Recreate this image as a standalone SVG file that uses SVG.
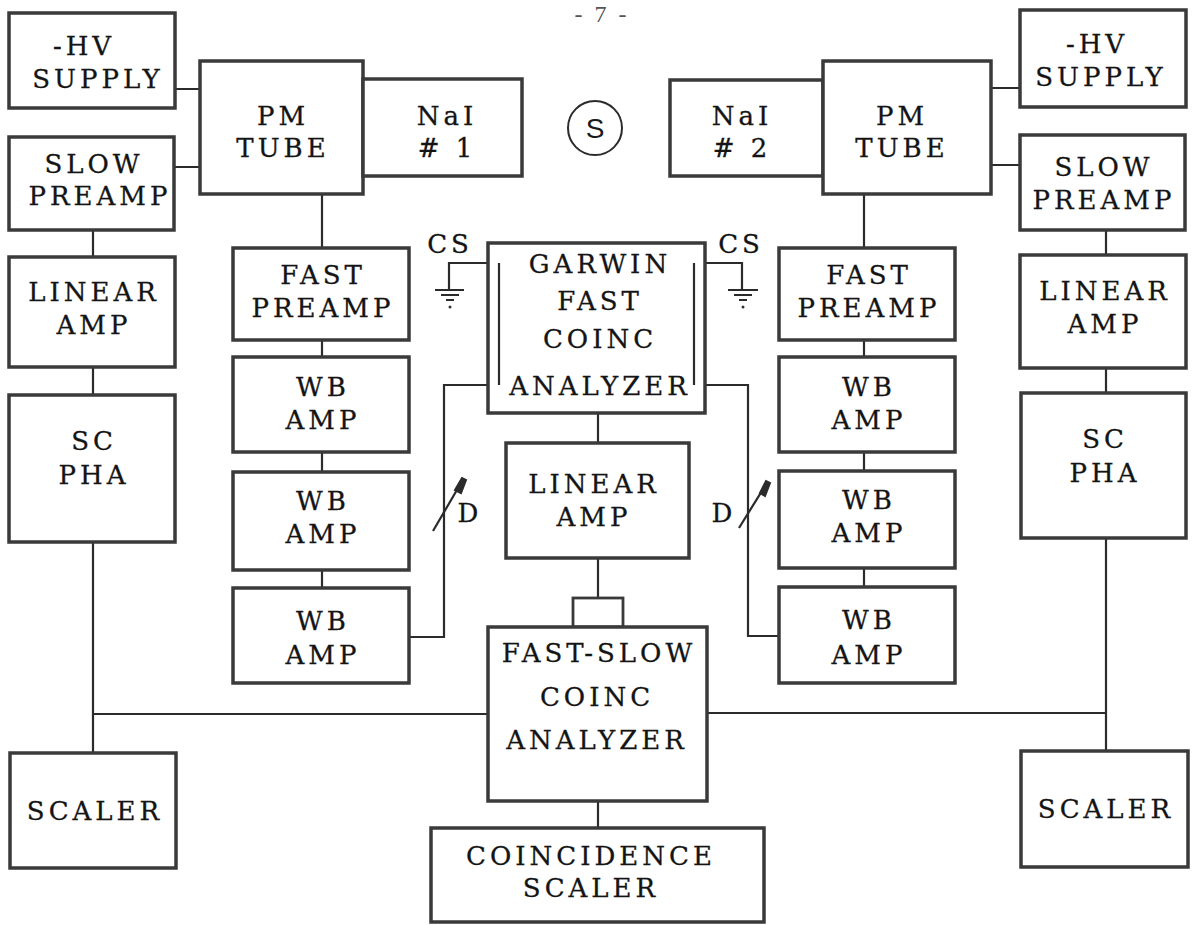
<svg xmlns="http://www.w3.org/2000/svg" width="1193" height="925" viewBox="0 0 1193 925">
<style>
.b{fill:#fff;stroke:#3a3a3a;stroke-width:3.5}
.c{fill:none;stroke:#2b2b2b;stroke-width:2.2}
.t{font-family:"DejaVu Serif","Liberation Serif",serif;font-size:26px;letter-spacing:4px;fill:#141414;stroke:#141414;stroke-width:0.3;text-anchor:middle}
</style>
<rect width="1193" height="925" fill="#fff"/>
<text x="602" y="22" style="font-family:'Liberation Serif',serif;font-size:24px;letter-spacing:3px;fill:#555;text-anchor:middle">- 7 -</text>
<g id="connectors">
<path class="c" d="M175 89H200M174 167H200M322 194V248M990 88H1020M990 165H1020M864 194V248"/>
<path class="c" d="M322 340V357M322 452V472M322 570V588M864 340V357M864 452V471M864 568V587"/>
<path class="c" d="M93 230V257M93 367V395M93 542V753M93 714H488M1106 230V255M1106 368V393M1106 538V751M707 713H1106"/>
<path class="c" d="M598 413V443M598 558V598M598 801V828"/>
<path class="c" d="M409 637H444V385H499V263H449V290M779 636H748V385H694V263H742V290"/>
<path class="c" d="M435 290H464M441 295H459M446 300H454M728 290H758M734 295H752M739 300H747"/>
<circle cx="450" cy="307" r="1.5" fill="#333"/><circle cx="743" cy="307" r="1.5" fill="#333"/>
<path class="c" d="M433 531L461 483M739 528L765 486"/>
<path d="M455 490L462 478L466 480L461 493Z" fill="#2b2b2b" stroke="#2b2b2b" stroke-width="2"/>
<path d="M760 493L766 481L770 483L765 496Z" fill="#2b2b2b" stroke="#2b2b2b" stroke-width="2"/>
</g>
<g id="hv1"><rect class="b" x="9" y="13" width="166" height="95"/><text class="t" x="84" y="55">-HV</text><text class="t" x="98" y="88">SUPPLY</text></g>
<g id="pm1"><rect class="b" x="200" y="61" width="163" height="133"/><text class="t" x="283" y="125">PM</text><text class="t" x="283" y="157">TUBE</text></g>
<g id="nai1"><rect class="b" x="363" y="79" width="159" height="97"/><text class="t" x="447" y="125">NaI</text><text class="t" x="447" y="157"># 1</text></g>
<g id="source"><circle cx="595" cy="128" r="27" fill="none" stroke="#2b2b2b" stroke-width="2"/><text x="595" y="138" style="font-family:'Liberation Sans',sans-serif;font-size:28px;fill:#1a1a1a;text-anchor:middle">S</text></g>
<g id="nai2"><rect class="b" x="670" y="80" width="153" height="96"/><text class="t" x="742" y="125">NaI</text><text class="t" x="742" y="157"># 2</text></g>
<g id="pm2"><rect class="b" x="823" y="61" width="168" height="133"/><text class="t" x="902" y="125">PM</text><text class="t" x="902" y="157">TUBE</text></g>
<g id="hv2"><rect class="b" x="1020" y="10" width="166" height="97"/><text class="t" x="1097" y="53">-HV</text><text class="t" x="1101" y="86">SUPPLY</text></g>
<g id="slow1"><rect class="b" x="9" y="137" width="165" height="93"/><text class="t" x="94" y="173">SLOW</text><text class="t" x="100" y="205">PREAMP</text></g>
<g id="slow2"><rect class="b" x="1020" y="135" width="165" height="95"/><text class="t" x="1104" y="176">SLOW</text><text class="t" x="1104" y="209">PREAMP</text></g>
<g id="lin1"><rect class="b" x="9" y="257" width="166" height="110"/><text class="t" x="94" y="301">LINEAR</text><text class="t" x="94" y="334">AMP</text></g>
<g id="lin2"><rect class="b" x="1020" y="255" width="166" height="113"/><text class="t" x="1105" y="300">LINEAR</text><text class="t" x="1105" y="333">AMP</text></g>
<g id="scpha1"><rect class="b" x="9" y="395" width="166" height="147"/><text class="t" x="94" y="450">SC</text><text class="t" x="94" y="484">PHA</text></g>
<g id="scpha2"><rect class="b" x="1021" y="393" width="165" height="145"/><text class="t" x="1105" y="448">SC</text><text class="t" x="1105" y="482">PHA</text></g>
<g id="fast1"><rect class="b" x="233" y="248" width="176" height="92"/><text class="t" x="323" y="284">FAST</text><text class="t" x="323" y="317">PREAMP</text></g>
<g id="fast2"><rect class="b" x="779" y="248" width="176" height="92"/><text class="t" x="869" y="284">FAST</text><text class="t" x="869" y="317">PREAMP</text></g>
<g id="wb1a"><rect class="b" x="233" y="357" width="176" height="95"/><text class="t" x="323" y="396">WB</text><text class="t" x="323" y="429">AMP</text></g>
<g id="wb1b"><rect class="b" x="233" y="472" width="176" height="98"/><text class="t" x="323" y="510">WB</text><text class="t" x="323" y="543">AMP</text></g>
<g id="wb1c"><rect class="b" x="233" y="588" width="176" height="95"/><text class="t" x="323" y="630">WB</text><text class="t" x="323" y="664">AMP</text></g>
<g id="wb2a"><rect class="b" x="779" y="357" width="176" height="95"/><text class="t" x="869" y="396">WB</text><text class="t" x="869" y="429">AMP</text></g>
<g id="wb2b"><rect class="b" x="779" y="471" width="176" height="97"/><text class="t" x="869" y="509">WB</text><text class="t" x="869" y="542">AMP</text></g>
<g id="wb2c"><rect class="b" x="779" y="587" width="176" height="96"/><text class="t" x="869" y="629">WB</text><text class="t" x="869" y="664">AMP</text></g>
<g id="garwin"><rect class="b" x="488" y="243" width="217" height="170"/><path class="c" d="M499 263V385M694 263V385"/><text class="t" x="600" y="273">GARWIN</text><text class="t" x="600" y="310">FAST</text><text class="t" x="600" y="348">COINC</text><text class="t" x="600" y="395">ANALYZER</text></g>
<g id="cs"><text class="t" x="450" y="253">CS</text><text class="t" x="741" y="253">CS</text></g>
<g id="delay"><text class="t" x="470" y="522">D</text><text class="t" x="724" y="522">D</text></g>
<g id="lin3"><rect class="b" x="506" y="443" width="183" height="115"/><text class="t" x="594" y="493">LINEAR</text><text class="t" x="594" y="526">AMP</text></g>
<g id="gate"><rect class="b" x="573" y="598" width="50" height="29" style="stroke-width:2.8"/></g>
<g id="fastslow"><rect class="b" x="488" y="627" width="219" height="174"/><text class="t" x="599" y="662">FAST-SLOW</text><text class="t" x="597" y="706">COINC</text><text class="t" x="597" y="749">ANALYZER</text></g>
<g id="sc1"><rect class="b" x="10" y="753" width="166" height="115"/><text class="t" x="95" y="820">SCALER</text></g>
<g id="sc2"><rect class="b" x="1021" y="751" width="167" height="116"/><text class="t" x="1106" y="818">SCALER</text></g>
<g id="coinscaler"><rect class="b" x="431" y="828" width="333" height="94"/><text class="t" x="591" y="865">COINCIDENCE</text><text class="t" x="591" y="897">SCALER</text></g>
</svg>
